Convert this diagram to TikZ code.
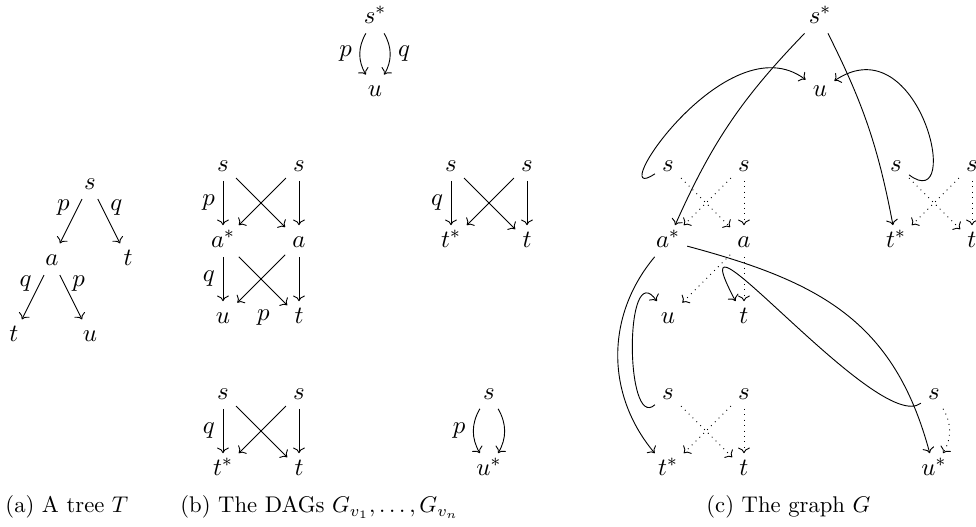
\documentclass[tikz,border=0pt]{standalone}
\usepackage{amsmath,amssymb}
\usepackage{tikz}
\usetikzlibrary{arrows.meta,positioning}

\begin{document}
\begin{tikzpicture}[x=1.178cm, y=1.178cm, >=To,
    font=\fontsize{10.95}{13}\selectfont,
    obj/.style={text height=1.5ex, text depth=0.25ex, inner sep=3pt},
    ghost/.style={->, dotted},
    captxt/.style={inner sep=0pt, anchor=base west, font=\normalsize}]
    \useasboundingbox (-2.934,-0.763) rectangle (9.908,6.171);
    % (a) the tree
    \node[obj] (as)  at (-1.75,3.76) {$s$};
    \node[obj] (aa)  at (-2.25,2.76) {$a$};
    \node[obj] (at1) at (-1.25,2.76) {$t$};
    \node[obj] (at2) at (-2.75,1.76) {$t$};
    \node[obj] (au)  at (-1.75,1.76) {$u$};
    \draw[->] (as) -- node[pos=0.2, left] {$p$} (aa);
    \draw[->] (as) -- node[pos=0.2, right] {$q$} (at1);
    \draw[->] (aa) -- node[pos=0.2, left] {$q$} (at2);
    \draw[->] (aa) -- node[pos=0.2, right] {$p$} (au);
    \node[captxt] (capa) at (-2.868,-0.575) {(a) A tree $T$};
    % (b) the DAGs
    \node[obj] (bs0) at (2,5.94) {$s^*$};
    \node[obj] (bu0) at (2,4.98) {$u$};
    \draw[->] (bs0) to[bend right] node[left] {$p$} (bu0);
    \draw[->] (bs0) to[bend left] node[right] {$q$} (bu0);
    \node[obj] (bs1) at (0,4) {$s$};
    \node[obj] (bs2) at (1,4) {$s$};
    \node[obj] (ba1) at (0,3) {$a^*$};
    \node[obj] (ba2) at (1,3) {$a$};
    \node[obj] (bu1) at (0,2) {$u$};
    \node[obj] (bt1) at (1,2) {$t$};
    \draw[->] (bs1) -- node[left] {$p$} (ba1);
    \draw[->] (bs1) -- (ba2);
    \draw[->] (bs2) -- (ba1);
    \draw[->] (bs2) -- (ba2);
    \draw[->] (ba1) -- node[left] {$q$} (bu1);
    \draw[->] (ba1) -- (bt1);
    \draw[->] (ba2) -- (bu1);
    \draw[->] (ba2) -- (bt1);
    \node[obj] (bp) at (0.53,2.03) {$p$};
    \node[obj] (bs3) at (3,4) {$s$};
    \node[obj] (bs4) at (4,4) {$s$};
    \node[obj] (bt2) at (3,3) {$t^*$};
    \node[obj] (bt3) at (4,3) {$t$};
    \draw[->] (bs3) -- node[left] {$q$} (bt2);
    \draw[->] (bs3) -- (bt3);
    \draw[->] (bs4) -- (bt2);
    \draw[->] (bs4) -- (bt3);
    \node[obj] (bs5) at (0,1) {$s$};
    \node[obj] (bs6) at (1,1) {$s$};
    \node[obj] (bt4) at (0,0) {$t^*$};
    \node[obj] (bt5) at (1,0) {$t$};
    \draw[->] (bs5) -- node[left] {$q$} (bt4);
    \draw[->] (bs5) -- (bt5);
    \draw[->] (bs6) -- (bt4);
    \draw[->] (bs6) -- (bt5);
    \node[obj] (bs7) at (3.5,1) {$s$};
    \node[obj] (bu2) at (3.5,0) {$u^*$};
    \draw[->] (bs7) to[bend right] node[left] {$p$} (bu2);
    \draw[->] (bs7) to[bend left] (bu2);
    \node[captxt] (capb) at (-0.566,-0.575)
      {(b) The DAGs $G_{v_1},\dots,G_{v_n}$};
    % (c) the graph
    \def\cx{5.855}
    \node[obj] (cs0) at (\cx+2,5.94) {$s^*$};
    \node[obj] (cu0) at (\cx+2,4.98) {$u$};
    \node[obj] (cs1) at (\cx,4) {$s$};
    \node[obj] (cs2) at (\cx+1,4) {$s$};
    \node[obj] (ca1) at (\cx,3) {$a^*$};
    \node[obj] (ca2) at (\cx+1,3) {$a$};
    \node[obj] (cu1) at (\cx,2) {$u$};
    \node[obj] (ct1) at (\cx+1,2) {$t$};
    \node[obj] (cs3) at (\cx+3,4) {$s$};
    \node[obj] (cs4) at (\cx+4,4) {$s$};
    \node[obj] (ct2) at (\cx+3,3) {$t^*$};
    \node[obj] (ct3) at (\cx+4,3) {$t$};
    \node[obj] (cs5) at (\cx,1) {$s$};
    \node[obj] (cs6) at (\cx+1,1) {$s$};
    \node[obj] (ct4) at (\cx,0) {$t^*$};
    \node[obj] (ct5) at (\cx+1,0) {$t$};
    \node[obj] (cs7) at (\cx+3.5,1) {$s$};
    \node[obj] (cu2) at (\cx+3.5,0) {$u^*$};
    \draw[ghost] (cs1) -- (ca2);
    \draw[ghost] (cs2) -- (ca1);
    \draw[ghost] (cs2) -- (ca2);
    \draw[ghost] (ca2) -- (cu1);
    \draw[ghost] (ca2) -- (ct1);
    \draw[ghost] (cs3) -- (ct3);
    \draw[ghost] (cs4) -- (ct2);
    \draw[ghost] (cs4) -- (ct3);
    \draw[ghost] (cs5) -- (ct5);
    \draw[ghost] (cs6) -- (ct4);
    \draw[ghost] (cs6) -- (ct5);
    \draw[ghost] (cs7) to[bend left] (cu2);
    \draw[->] (cs0) to[bend right=10] (ca1);
    \draw[->] (cs0) to[bend left=8] (ct2);
    \draw[->] (cs1) to[out=214, in=143,
      out looseness=0.93, in looseness=1.42] (cu0);
    \draw[->] (cs3) to[out=-37, in=34,
      out looseness=1.47, in looseness=2.2] (cu0);
    \draw[->] (ca1) to[bend right=40] (ct4);
    \draw[->] (cs5) to[out=222, in=125,
      out looseness=1, in looseness=1.4] (cu1);
    \draw[->] (ca1) to[out=-15, in=105, looseness=1.1] (cu2);
    \draw[->] (cs7) to[out=218, in=118,
      out looseness=0.66, in looseness=1.7] (ct1);
    \node[captxt] (capc) at (6.355,-0.575) {(c) The graph $G$};
\end{tikzpicture}
\end{document}
